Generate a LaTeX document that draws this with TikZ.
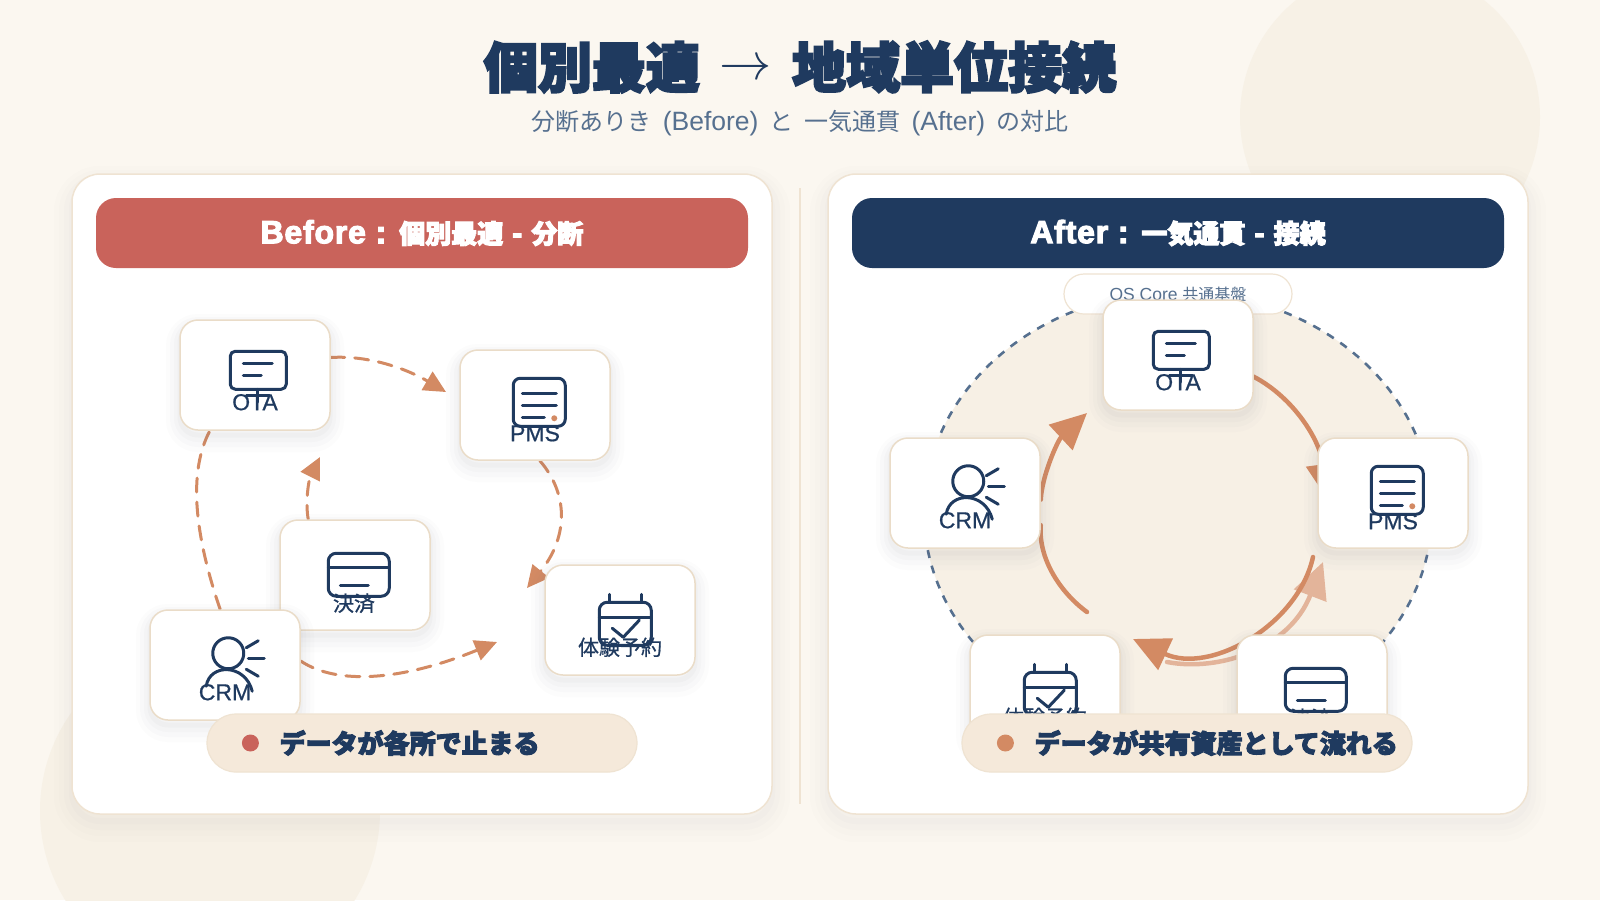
\documentclass[tikz,border=0pt]{standalone}
\usepackage{fontspec}
\usetikzlibrary{arrows.meta,backgrounds}

\newfontfamily\jpreg{Noto Sans CJK JP}
\newfontfamily\jpmed[FakeBold=0.7]{Noto Sans CJK JP}
\newfontfamily\jpheavy[FakeBold=4]{Noto Sans CJK JP Black}
\newfontfamily\latreg{Liberation Sans}
\newfontfamily\latmed[FakeBold=0.7]{Liberation Sans}
\newfontfamily\latheavy[FakeBold=3.5,LetterSpace=2.5]{Liberation Sans Bold}

\definecolor{pagebg}{HTML}{FBF7F0}
\definecolor{decoc}{HTML}{F7F1E6}
\definecolor{navy}{HTML}{1F3A5F}
\definecolor{slate}{HTML}{56708F}
\definecolor{brick}{HTML}{C9635B}
\definecolor{clay}{HTML}{D38A63}
\definecolor{claylight}{HTML}{E3B49A}
\definecolor{edgec}{HTML}{EFE3D2}
\definecolor{cardedge}{HTML}{EADCC8}
\definecolor{sandc}{HTML}{F5E9DA}
\definecolor{ringc}{HTML}{F7F0E5}
\definecolor{shadowc}{HTML}{5A5F70}

\tikzset{
	softshadow/.style={
		preaction={draw=shadowc, draw opacity=0.016, line width=28pt, transform canvas={yshift=-8pt}},
		preaction={draw=shadowc, draw opacity=0.020, line width=20pt, transform canvas={yshift=-7pt}},
		preaction={draw=shadowc, draw opacity=0.024, line width=12pt, transform canvas={yshift=-6pt}},
		preaction={draw=shadowc, draw opacity=0.030, line width=5pt, transform canvas={yshift=-5pt}}
	},
	panelshadow/.style={
		preaction={draw=shadowc, draw opacity=0.010, line width=36pt, transform canvas={yshift=-10pt}},
		preaction={draw=shadowc, draw opacity=0.012, line width=26pt, transform canvas={yshift=-9pt}},
		preaction={draw=shadowc, draw opacity=0.014, line width=16pt, transform canvas={yshift=-8pt}},
		preaction={draw=shadowc, draw opacity=0.016, line width=6pt, transform canvas={yshift=-7pt}}
	},
	panel/.style={panelshadow, draw=edgec, line width=1.5pt, fill=white, rounded corners=28pt, inner sep=0pt, minimum width=700pt, minimum height=640pt},
	header/.style={rounded corners=20pt, inner sep=0pt, text=white, minimum width=652pt, minimum height=70pt},
	card/.style={softshadow, draw=cardedge, line width=1.5pt, fill=white, rounded corners=18pt, inner sep=0pt, minimum width=150pt, minimum height=110pt},
	cardlab/.style={text=navy, inner sep=0pt},
	pill/.style={draw=edgec, line width=1.2pt, fill=sandc, rounded corners=29pt, inner sep=0pt, minimum height=58pt},
	pilltxt/.style={text=navy, inner sep=0pt, anchor=west},
	dot/.style={circle, inner sep=0pt, minimum size=17pt},
	iconline/.style={draw=navy, line width=3pt, line cap=round, line join=round},
	dashflow/.style={draw=clay, line width=3pt, line cap=round, dash pattern=on 14pt off 10pt, -{Triangle[length=22pt,width=21pt]}},
	dashplain/.style={draw=clay, line width=3pt, line cap=round, dash pattern=on 14pt off 10pt},
	bigflow/.style={draw=clay, line width=4.5pt, line cap=round, -{Triangle[length=36pt,width=34pt]}},
	bigplain/.style={draw=clay, line width=4.5pt, line cap=round},
	monitor/.pic={
		\draw[iconline, rounded corners=5pt] (51,32) rectangle (107,70);
		\draw[iconline] (64,44.5) -- (93,44.5);
		\draw[iconline] (64,56) -- (82,56);
		\draw[iconline] (78,70) -- (78,83);
		\draw[iconline] (67,76.5) -- (90,76.5);
	},
	ledger/.pic={
		\draw[iconline, rounded corners=7pt] (54,29) rectangle (106,77);
		\draw[iconline] (63,44) -- (97,44);
		\draw[iconline] (63,56) -- (97,56);
		\draw[iconline] (63,68) -- (85,68);
		\fill[clay] (95,69) circle (3pt);
	},
	paycard/.pic={
		\draw[iconline, rounded corners=8pt] (49,34) rectangle (110,77);
		\draw[iconline] (49,48) -- (110,48);
		\draw[iconline] (61,66) -- (89,66);
	},
	calendar/.pic={
		\draw[iconline, rounded corners=8pt] (55,38) rectangle (107,81);
		\draw[iconline] (55,53) -- (107,53);
		\draw[iconline] (65,30) -- (65,38);
		\draw[iconline] (97,30) -- (97,38);
		\draw[iconline] (68,64) -- (79,73) -- (95,56);
	},
	person/.pic={
		\draw[iconline] (79,44) circle (15.5pt);
		\draw[iconline] (57,77) .. controls (60,54) and (96,54) .. (103,82);
		\draw[iconline] (97,38.5) -- (109,31.5);
		\draw[iconline] (99,49) -- (115,49);
		\draw[iconline] (97,60) -- (109,67);
	}
}

\newcommand{\wordgap}{\hspace*{11pt}}

\begin{document}
\begin{tikzpicture}[x=1pt, y=-1pt]

	\useasboundingbox (0,0) rectangle (1600,900);

	\begin{scope}[on background layer]
	 \fill[pagebg] (0,0) rectangle (1600,900);
	 \fill[decoc] (1390,117) circle (150pt);
	 \fill[decoc] (210,811) circle (170pt);

	 \draw (422, 494) node (panelB) [panel] {};
	 \draw (1178, 494) node (panelA) [panel] {};
	 \draw[edgec, line width=1.5pt] (800,188) -- (800,804);

	 \draw (422, 233) node (headB) [header, fill=brick] {\fontsize{26}{30}\selectfont{\latheavy\fontsize{32}{30}\selectfont Before : }{\jpheavy 個別最適}{\latheavy\fontsize{30}{30}\selectfont\ -\ }{\jpheavy 分断}};
	 \draw (1178, 233) node (headA) [header, fill=navy] {\fontsize{26}{30}\selectfont{\latheavy\fontsize{32}{30}\selectfont After : }{\jpheavy 一気通貫}{\latheavy\fontsize{30}{30}\selectfont\ -\ }{\jpheavy 接続}};

	 \draw[fill=ringc, draw=slate, line width=2.6pt, dash pattern=on 8pt off 8pt] (1178,512) ellipse (254pt and 220pt);
	 \draw (1178, 294) node (core) [draw=edgec, line width=1.2pt, fill=white, rounded corners=20pt, inner sep=0pt, minimum width=228pt, minimum height=40pt, text=slate] {\fontsize{16}{20}\selectfont{\latreg\fontsize{17.5}{20}\selectfont OS Core }{\jpreg 共通基盤}};
	\end{scope}

	\draw (800, 67) node (title) [text=navy, inner sep=0pt] {\fontsize{54}{60}\selectfont{\jpheavy 個別最適}\hspace*{20pt}\raisebox{8pt}{\scalebox{2.1}{$\rightarrow$}}\hspace*{20pt}{\jpheavy 地域単位接続}};
	\draw (800, 123) node (subtitle) [text=slate, inner sep=0pt] {\fontsize{24}{28}\selectfont\jpreg 分断ありき\wordgap{\latreg\fontsize{26.5}{28}\selectfont (Before)}\wordgap と\wordgap 一気通貫\wordgap{\latreg\fontsize{26.5}{28}\selectfont (After)}\wordgap の対比};

	\draw (255, 375) node (otaB) [card] {};
	\pic at (otaB.north west) {monitor};
	\draw (otaB.north) ++(0,83) node (otaBlab) [cardlab] {\fontsize{23}{24}\selectfont\latmed OTA};

	\draw (535, 405) node (pmsB) [card] {};
	\pic at (pmsB.north west) {ledger};
	\draw (pmsB.north) ++(0,84) node (pmsBlab) [cardlab] {\fontsize{23}{24}\selectfont\latmed PMS};

	\draw (620, 620) node (bookB) [card] {};
	\pic at (bookB.north west) {calendar};
	\draw (bookB.north) ++(0,83) node (bookBlab) [cardlab] {\fontsize{21}{24}\selectfont\jpmed 体験予約};

	\draw (355, 575) node (payB) [card] {};
	\pic at (payB.north west) {paycard};
	\draw (payB.north) ++(-1,84) node (payBlab) [cardlab] {\fontsize{21}{24}\selectfont\jpmed 決済};

	\draw (225, 665) node (crmB) [card] {};
	\pic at (crmB.north west) {person};
	\draw (crmB.north) ++(0,83) node (crmBlab) [cardlab] {\fontsize{23}{24}\selectfont\latmed CRM};

	\draw (1178, 355) node (otaA) [card] {};
	\pic at (otaA.north west) {monitor};
	\draw (otaA.north) ++(0,83) node (otaAlab) [cardlab] {\fontsize{23}{24}\selectfont\latmed OTA};

	\draw (1393, 493) node (pmsA) [card] {};
	\pic at (pmsA.north west) {ledger};
	\draw (pmsA.north) ++(0,84) node (pmsAlab) [cardlab] {\fontsize{23}{24}\selectfont\latmed PMS};

	\draw (965, 493) node (crmA) [card] {};
	\pic at (crmA.north west) {person};
	\draw (crmA.north) ++(0,83) node (crmAlab) [cardlab] {\fontsize{23}{24}\selectfont\latmed CRM};

	\draw (1045, 690) node (bookA) [card] {};
	\pic at (bookA.north west) {calendar};
	\draw (bookA.north) ++(0,83) node (bookAlab) [cardlab] {\fontsize{21}{24}\selectfont\jpmed 体験予約};

	\draw (1312, 690) node (payA) [card] {};
	\pic at (payA.north west) {paycard};
	\draw (payA.north) ++(-1,84) node (payAlab) [cardlab] {\fontsize{21}{24}\selectfont\jpmed 決済};

	% tips of the flows
	\coordinate (tipPmsB) at (446,392);
	\coordinate (tipBookB) at (527,588);
	\coordinate (tipCrmB) at (497,642);
	\coordinate (tipPayB) at (320,457);
	\coordinate (tipPmsA) at (1328,500);
	\coordinate (fromPmsA) at (1313,557);
	\coordinate (tipBookA) at (1133,639);
	\coordinate (fromBookA) at (1087,612);
	\coordinate (tipOtaA) at (1087,413);
	\coordinate (fromPayA) at (1167,662);
	\coordinate (tipPayA) at (1323,562);

	\begin{scope}[on background layer]
	 \draw[dashflow] (otaB.13) .. controls (369,355) and (407,369) .. (tipPmsB);
	 \draw[dashflow] (pmsB.-85) .. controls (571,497) and (566,540) .. (tipBookB);
	 \draw[dashflow] (crmB.3) .. controls (338,686) and (404,680) .. (tipCrmB);
	 \draw[dashplain] (crmB.95) .. controls (193,530) and (189,470) .. (otaB.231);
	 \draw[dashflow] (payB.130) .. controls (305,501) and (309,479) .. (tipPayB);

	 \draw[bigflow, draw=claylight] (fromPayA) .. controls (1220,672) and (1290,648) .. (tipPayA);
	 \draw[bigflow] (otaA.-16) .. controls (1294,398) and (1320,440) .. (tipPmsA);
	 \draw[bigflow] (fromPmsA) .. controls (1298,625) and (1210,675) .. (tipBookA);
	 \draw[bigplain] (fromBookA) .. controls (1062,594) and (1038,560) .. (crmA.-23);
	 \draw[bigflow] (crmA.-5) .. controls (1042,475) and (1058,440) .. (tipOtaA);
	\end{scope}

	\draw (422, 743) node (pillB) [pill, minimum width=430pt] {};
	\draw (pillB.west) ++(44,0) node (dotB) [dot, fill=brick] {};
	\draw (pillB.west) ++(73,0) node (pillBtxt) [pilltxt] {\fontsize{26}{30}\selectfont\jpheavy データが各所で止まる};

	\draw (1187, 743) node (pillA) [pill, minimum width=450pt] {};
	\draw (pillA.west) ++(44,0) node (dotA) [dot, fill=clay] {};
	\draw (pillA.west) ++(73,0) node (pillAtxt) [pilltxt] {\fontsize{26}{30}\selectfont\jpheavy データが共有資産として流れる};

\end{tikzpicture}
\end{document}
